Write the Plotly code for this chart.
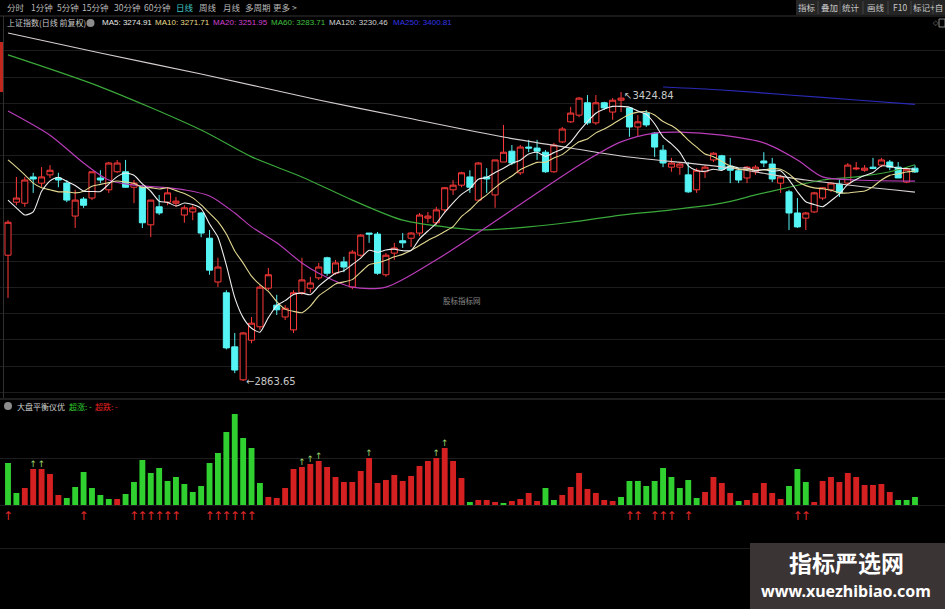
import plotly.graph_objects as go
import pandas as pd

W, H = 945, 609

# ---- 上证指数 daily candles ----
opens = [3108, 3211, 3209, 3260, 3248, 3264, 3258, 3248, 3184, 3217,
         3219, 3258, 3235, 3270, 3270, 3240, 3240, 3167, 3202, 3211,
         3209, 3186, 3192, 3190, 3141, 3056, 3035, 2930, 2866, 2943,
         2969, 3044, 3011, 2988, 2963, 3035, 3044, 3064, 3103, 3073,
         3095, 3046, 3108, 3151, 3149, 3070, 3112, 3136, 3141, 3151,
         3180, 3171, 3196, 3235, 3244, 3260, 3215, 3260, 3225, 3289,
         3310, 3268, 3318, 3316, 3308, 3270, 3328, 3367, 3380, 3404,
         3365, 3404, 3386, 3409, 3394, 3357, 3384, 3345, 3312, 3279,
         3279, 3264, 3235, 3270, 3293, 3301, 3281, 3272, 3258, 3270,
         3291, 3285, 3248, 3231, 3190, 3180, 3192, 3219, 3235, 3246,
         3248, 3275.5, 3273, 3279, 3283, 3289, 3279, 3250, 3277]
highs = [3176, 3260, 3260, 3268, 3279, 3283, 3268, 3254, 3235, 3221,
         3270, 3273, 3289, 3293, 3293, 3254, 3244, 3215, 3225, 3239,
         3221, 3205, 3205, 3192, 3157, 3103, 3040, 2957, 2959, 2988,
         3050, 3083, 3031, 3011, 3040, 3103, 3066, 3093, 3105, 3099,
         3105, 3118, 3149, 3151, 3153, 3112, 3132, 3151, 3153, 3190,
         3192, 3202, 3240, 3254, 3270, 3273, 3289, 3277, 3293, 3361,
         3322, 3322, 3332, 3332, 3312, 3326, 3357, 3396, 3415, 3419,
         3419, 3406, 3413, 3424.84, 3396, 3380, 3390, 3347, 3322, 3297,
         3289, 3289, 3277, 3283, 3308, 3303, 3297, 3277, 3281, 3283,
         3308, 3297, 3264, 3235, 3219, 3192, 3231, 3240, 3250, 3254,
         3287, 3289, 3283, 3297, 3297, 3293, 3289, 3279, 3283]
lows = [3025, 3205, 3202, 3229, 3240, 3258, 3240, 3211, 3161, 3200,
        3215, 3248, 3229, 3268, 3239, 3209, 3161, 3143, 3186, 3205,
        3202, 3171, 3176, 3143, 3070, 3046, 2925, 2879, 2863.65, 2937,
        2963, 3040, 2992, 2982, 2957, 3031, 3035, 3060, 3068, 3070,
        3075, 3042, 3105, 3132, 3070, 3066, 3099, 3122, 3124, 3145,
        3171, 3167, 3192, 3225, 3240, 3229, 3215, 3229, 3200, 3289,
        3283, 3264, 3308, 3293, 3268, 3268, 3326, 3365, 3376, 3361,
        3361, 3390, 3371, 3386, 3338, 3338, 3357, 3299, 3279, 3270,
        3264, 3229, 3229, 3258, 3289, 3273, 3248, 3248, 3248, 3264,
        3279, 3250, 3229, 3157, 3161, 3157, 3190, 3215, 3231, 3221,
        3244, 3273, 3270, 3275, 3279, 3273, 3258, 3248, 3268]
closes = [3172, 3219, 3254, 3256, 3260, 3273, 3254, 3215, 3215, 3205,
          3270, 3254, 3287, 3287, 3240, 3248, 3171, 3215, 3190, 3229,
          3213, 3200, 3200, 3151, 3079, 3085, 2928, 2885, 2957, 2976,
          3046, 3070, 3002, 3005, 3035, 3060, 3054, 3085, 3073, 3093,
          3085, 3114, 3147, 3149, 3073, 3108, 3122, 3132, 3151, 3186,
          3184, 3196, 3239, 3244, 3268, 3240, 3287, 3256, 3293, 3308,
          3287, 3318, 3316, 3310, 3270, 3322, 3353, 3384, 3413, 3365,
          3404, 3394, 3409, 3413, 3357, 3367, 3361, 3318, 3287, 3287,
          3285, 3231, 3273, 3279, 3306, 3275, 3273, 3254, 3279, 3279,
          3287, 3256, 3260, 3190, 3163, 3190, 3229, 3239, 3248, 3229,
          3283, 3277, 3277, 3276.55, 3293, 3279, 3258, 3275, 3269.55]

# moving averages: first values of MA5 / MA10 (before a full window exists)
ma5_head = [3215, 3200, 3186, 3192]
ma10_head = [3293, 3279, 3264, 3248, 3239, 3235, 3231, 3231, 3229]

# slower averages sampled at candle indices
ma20_idx = [0, 5, 9, 12, 15, 19, 21, 24, 27, 29, 32, 35, 37, 41, 45, 51, 57, 63,
            69, 73, 77, 80, 85, 90, 94, 97, 101, 108]
ma20_val = [3388, 3341, 3287, 3254, 3244, 3239, 3235, 3223, 3190, 3163, 3132, 3093,
            3073, 3046, 3046, 3099, 3163, 3229, 3293, 3328, 3345, 3347, 3341, 3326,
            3293, 3260, 3254, 3251.95]
ma60_idx = [0, 11, 23, 29, 35, 41, 47, 53, 56, 62, 67, 73, 79, 85, 89, 93, 97, 101, 105, 108]
ma60_val = [3497, 3435, 3351, 3299, 3260, 3215, 3176, 3161, 3157, 3163, 3172, 3186,
            3196, 3209, 3225, 3240, 3254, 3260, 3270, 3283.71]
ma120_idx = [0, 11, 23, 37, 47, 59, 67, 73, 86, 95, 108]
ma120_val = [3539.5, 3500.7, 3459.9, 3409.4, 3376.4, 3337.5, 3316.2, 3300.6,
             3277.3, 3254.0, 3230.46]
ma250_idx = [78, 85, 93, 101, 108]
ma250_val = [3434.6, 3428.8, 3419.1, 3409.4, 3400.81]

# ---- 大盘平衡仪优 histogram ----
ind_vals = [42, 12, 17, 36, 36, 31, 10, 7, 18, 33,
            17, 10, 6, 6, 11, 23, 45, 32, 37, 24,
            28, 21, 13, 19, 42, 52, 73, 91, 67, 57,
            22, 8, 7, 17, 36, 38, 41, 44, 38, 28,
            23, 23, 34, 47, 22, 25, 30, 24, 29, 39,
            44, 47, 57, 44, 27, 3, 5, 5, 3, 1.5,
            4, 6, 12, 4, 17, 5, 10, 18, 32, 16,
            12, 5, 4, 8, 24, 24, 19, 24, 37, 28,
            17, 25, 7, 13, 28, 22, 12, 4, 5, 12,
            22, 12, 6, 19, 36, 23, 3, 24, 28, 23,
            32, 28, 20, 20, 21, 13, 5, 5, 8]
ind_side = ("GGRRRRRGGG" "GGGRGGGGGG" "GGGGGGGGGG" "GRRRRRRRRR" "RRRRRRRRRR"
            "RRRRRGRRRG" "RRRRGGRRRR" "RRRGGGGGGG" "GGGRRRRGRR" "RRRGGGRRRR"
            "RRRRRRGGG")
buy_signals = [0, 9, 15, 16, 17, 18, 19, 20, 24, 25, 26, 27, 28, 29,
               74, 75, 77, 78, 79, 81, 94, 95]
peak_marks = [3, 4, 35, 36, 37, 43, 51, 52]

toolbar_items = ["分时", "1分钟", "5分钟", "15分钟", "30分钟", "60分钟",
                 "日线", "周线", "月线", "多周期", "更多 >"]
toolbar_right = ["指标", "叠加", "统计", "画线", "F10", "标记", "+自"]

# ---------------------------------------------------------------
idx = list(range(len(closes)))
cs = pd.Series(closes, dtype=float)
ma5 = ma5_head + cs.rolling(5).mean().tolist()[len(ma5_head):]
ma10 = ma10_head + cs.rolling(10).mean().tolist()[len(ma10_head):]

RED = "#ff3a3a"
CYAN = "#56f5f5"
BAR_G = "#2fd02f"
BAR_R = "#d42020"
FONT = "Noto Sans CJK SC"


def fx(px):
    return px / W


def fy(py):
    return 1 - py / H


fig = go.Figure()

line_specs = [
    (ma120_idx, ma120_val, "#d6cece"),
    (ma60_idx, ma60_val, "#3aa83a"),
    (ma20_idx, ma20_val, "#b83cb8"),
    (ma250_idx, ma250_val, "#2a2ab8"),
]
for xs, ys, col in line_specs:
    fig.add_trace(go.Scatter(x=xs, y=ys, mode="lines",
                             line=dict(color=col, width=1.2, shape="spline", smoothing=0.8),
                             hoverinfo="skip"))

fig.add_trace(go.Candlestick(
    x=idx, open=opens, high=highs, low=lows, close=closes,
    increasing=dict(line=dict(color=RED, width=1), fillcolor="#000000"),
    decreasing=dict(line=dict(color=CYAN, width=1), fillcolor=CYAN),
    whiskerwidth=0, hoverinfo="skip"))

fig.add_trace(go.Scatter(x=idx, y=ma10, mode="lines",
                         line=dict(color="#e2d890", width=1.1, shape="spline", smoothing=0.6),
                         hoverinfo="skip"))
fig.add_trace(go.Scatter(x=idx, y=ma5, mode="lines",
                         line=dict(color="#eeeeee", width=1.1, shape="spline", smoothing=0.6),
                         hoverinfo="skip"))

# indicator panel
fig.add_trace(go.Bar(x=idx, y=ind_vals, yaxis="y2",
                     marker=dict(color=[BAR_G if s == "G" else BAR_R for s in ind_side],
                                 line=dict(width=0)),
                     hoverinfo="skip"))
fig.add_trace(go.Scatter(x=buy_signals, y=[-12] * len(buy_signals), yaxis="y2",
                         mode="text", text=["↑"] * len(buy_signals),
                         textfont=dict(color="#e02828", size=12, family="DejaVu Sans"),
                         hoverinfo="skip"))
fig.add_trace(go.Scatter(x=peak_marks, y=[ind_vals[i] + 4 for i in peak_marks], yaxis="y2",
                         mode="text", text=["↑"] * len(peak_marks),
                         textfont=dict(color="#9ad26a", size=9, family="DejaVu Sans"),
                         hoverinfo="skip"))

i_hi = highs.index(max(highs))
i_lo = lows.index(min(lows))

ann = []


def txt(x, y, s, color="#bdbdbd", size=9, anchor="left", family=FONT, **kw):
    ann.append(dict(x=fx(x), y=fy(y), xref="paper", yref="paper", text=s,
                    showarrow=False, xanchor=anchor, yanchor="middle",
                    font=dict(color=color, size=size, family=family), **kw))


# price extremes
ann.append(dict(x=i_hi, y=highs[i_hi], xref="x", yref="y", text=f"↖{highs[i_hi]:.2f}",
                showarrow=False, xanchor="left", yanchor="top", xshift=1, yshift=4,
                font=dict(color="#c8c8c8", size=10, family="DejaVu Sans")))
ann.append(dict(x=i_lo, y=lows[i_lo], xref="x", yref="y", text=f"←{lows[i_lo]:.2f}",
                showarrow=False, xanchor="left", yanchor="middle", xshift=1,
                font=dict(color="#c8c8c8", size=10, family="DejaVu Sans")))

# top toolbar
tool_x = [5, 29, 55, 80, 112, 142, 174, 197, 221, 243, 271]
for s, x in zip(toolbar_items, tool_x):
    txt(x, 7, s, color="#40c4c4" if s == "日线" else "#b8b8b8", size=8.5)
right_x = [807, 829, 851, 876, 900, 922]
for s, x in zip(toolbar_right[:-1], right_x):
    txt(x, 7, s, color="#c8c8c8", size=8.5, anchor="center")
txt(945, 7, toolbar_right[-1], color="#c8c8c8", size=8.5, anchor="right")

# legend row
txt(5, 23, "上证指数(日线 前复权)", color="#c8c8c8", size=8)
leg = [(100, f"MA5: {ma5[-1]:.2f}", "#e8e8e8"),
       (153, f"MA10: {ma10[-1]:.2f}", "#e8dc8c"),
       (211, f"MA20: {ma20_val[-1]:.2f}", "#d040d0"),
       (269, f"MA60: {ma60_val[-1]:.2f}", "#40c040"),
       (327, f"MA120: {ma120_val[-1]:.2f}", "#d4d4d4"),
       (391, f"MA250: {ma250_val[-1]:.2f}", "#3434e8")]
for x, s, c in leg:
    txt(x, 23, s, color=c, size=8, family="Liberation Sans")
txt(931, 23, "◇", color="#888888", size=7, family="DejaVu Sans")

# indicator title
txt(15, 406, "大盘平衡仪优", color="#d0d0d0", size=8)
txt(67, 406, "超涨: -", color="#30d030", size=8)
txt(93, 406, "超跌: -", color="#e02020", size=8)

# faint site mark in the price pane
txt(462, 300, "股标指标网", color="#8a8a8a", size=7.5, anchor="center")

# corner banner
txt(846, 562, "<b>指标严选网</b>", color="#ffffff", size=23, anchor="center")
txt(846, 591, "<b>www.xuezhibiao.com</b>", color="#ffffff", size=16, anchor="center",
    family="Noto Sans")

shapes = [
    # toolbar right block
    dict(type="rect", xref="paper", yref="paper", x0=fx(796), x1=1, y0=fy(15), y1=1,
         fillcolor="#252525", line=dict(width=0), layer="below"),
    dict(type="line", xref="paper", yref="paper", x0=0, x1=1, y0=fy(16), y1=fy(16),
         line=dict(color="#353535", width=1)),
    # panel separator
    dict(type="line", xref="paper", yref="paper", x0=0, x1=1, y0=fy(399), y1=fy(399),
         line=dict(color="#3c3c3c", width=1)),
    # left axis strip
    dict(type="line", xref="paper", yref="paper", x0=fx(3.5), x1=fx(3.5), y0=fy(398), y1=fy(16),
         line=dict(color="#303030", width=1)),
    dict(type="rect", xref="paper", yref="paper", x0=0, x1=fx(3), y0=fy(92), y1=fy(42),
         fillcolor="#c0281e", line=dict(width=0)),
    # legend icons
    dict(type="circle", xref="paper", yref="paper", x0=fx(86.5), x1=fx(94.5), y0=fy(27), y1=fy(19),
         fillcolor="#8c8c8c", line=dict(width=0)),
    dict(type="circle", xref="paper", yref="paper", x0=fx(4), x1=fx(12), y0=fy(410), y1=fy(402),
         fillcolor="#8c8c8c", line=dict(width=0)),
    dict(type="rect", xref="paper", yref="paper", x0=fx(939), x1=fx(945), y0=fy(27), y1=fy(19),
         fillcolor="rgba(0,0,0,0)", line=dict(color="#888888", width=1)),
    # banner box
    dict(type="rect", xref="paper", yref="paper", x0=fx(750), x1=1, y0=0, y1=fy(543),
         fillcolor="#3b3434", line=dict(width=0)),
]
for sx in [818, 840, 863, 888, 911, 933]:
    shapes.append(dict(type="line", xref="paper", yref="paper", x0=fx(sx), x1=fx(sx),
                       y0=fy(14), y1=fy(1), line=dict(color="#444444", width=1)))

X0 = -8 / 8.398
X1 = (W - 8) / 8.398

fig.update_layout(
    width=W, height=H, margin=dict(l=0, r=0, t=0, b=0),
    paper_bgcolor="#000000", plot_bgcolor="#000000",
    showlegend=False, hovermode=False, bargap=0.3,
    boxgap=0.28, boxgroupgap=0,
    xaxis=dict(range=[X0, X1], domain=[0, 1], anchor="y2", showgrid=False, zeroline=False,
               showticklabels=False, ticks="", rangeslider=dict(visible=False), fixedrange=True),
    yaxis=dict(domain=[fy(397), fy(28)], range=[2832.63, 3549.22], showgrid=True,
               gridcolor="#1d1d1d", gridwidth=1, tick0=3403, dtick=51.07,
               zeroline=False, showticklabels=False, ticks="", fixedrange=True),
    yaxis2=dict(domain=[fy(550), fy(400)], range=[-45, 105], showgrid=True,
                gridcolor="#1d1d1d", tickmode="array", tickvals=[-43, 0, 47],
                zeroline=False, showticklabels=False, ticks="", fixedrange=True),
    annotations=ann, shapes=shapes,
)

fig.write_html("out.html")
